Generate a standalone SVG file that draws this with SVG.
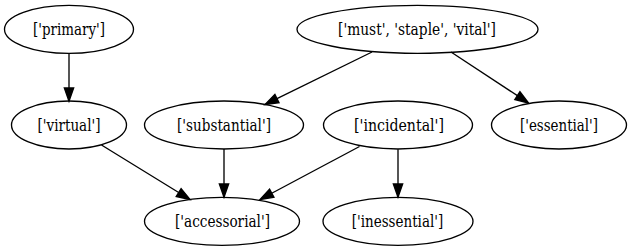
<svg xmlns="http://www.w3.org/2000/svg" width="632" height="251" viewBox="0 0 632 251">
  <style>
    .node ellipse { fill: none; stroke: #000; stroke-width: 1.33; }
    .node text { font-family: "DejaVu Serif Condensed", "DejaVu Serif", serif; font-size: 16.5px; text-anchor: middle; fill: #000; }
    .edge line { stroke: #000; stroke-width: 1.33; }
    .edge polygon { fill: #000; stroke: #000; stroke-width: 1.33; }
  </style>
  <rect width="632" height="251" fill="#fff"/>

  <!-- connectors: straight segments ending in filled arrowheads -->
  <g id="edges">
    <g class="edge" id="primary-virtual">
      <line x1="69" y1="53.5" x2="69" y2="88"/>
      <polygon points="69,101.3 64.33,88 73.67,88"/>
    </g>
    <g class="edge" id="must-substantial">
      <line x1="372" y1="52" x2="276.97" y2="98.63"/>
      <polygon points="265,104.5 279.03,102.82 274.91,94.44"/>
    </g>
    <g class="edge" id="must-essential">
      <line x1="451" y1="52" x2="517.37" y2="95.67"/>
      <polygon points="528.5,103 514.8,99.57 519.94,91.77"/>
    </g>
    <g class="edge" id="virtual-accessorial">
      <line x1="101.5" y1="145" x2="178.65" y2="192.51"/>
      <polygon points="190,199.5 176.2,196.49 181.1,188.53"/>
    </g>
    <g class="edge" id="substantial-accessorial">
      <line x1="224" y1="149" x2="224" y2="184"/>
      <polygon points="224,197.3 219.33,184 228.67,184"/>
    </g>
    <g class="edge" id="incidental-accessorial">
      <line x1="359.5" y1="146.5" x2="271.76" y2="193.23"/>
      <polygon points="260,199.5 273.96,197.35 269.57,189.11"/>
    </g>
    <g class="edge" id="incidental-inessential">
      <line x1="398" y1="149.3" x2="398" y2="184"/>
      <polygon points="398,197.3 393.33,184 402.67,184"/>
    </g>
  </g>

  <!-- nodes -->
  <g class="node" id="primary">
    <ellipse cx="69" cy="29.3" rx="64.5" ry="24"/>
    <text x="69" y="35" textLength="72" lengthAdjust="spacingAndGlyphs">['primary']</text>
  </g>
  <g class="node" id="must">
    <ellipse cx="417.5" cy="29.3" rx="120.5" ry="24"/>
    <text x="417" y="35" textLength="158" lengthAdjust="spacingAndGlyphs">['must', 'staple', 'vital']</text>
  </g>
  <g class="node" id="virtual">
    <ellipse cx="69" cy="125" rx="57.5" ry="24"/>
    <text x="69" y="130.5" textLength="63" lengthAdjust="spacingAndGlyphs">['virtual']</text>
  </g>
  <g class="node" id="substantial">
    <ellipse cx="224" cy="125" rx="79.5" ry="24"/>
    <text x="224" y="130.5" textLength="94" lengthAdjust="spacingAndGlyphs">['substantial']</text>
  </g>
  <g class="node" id="incidental">
    <ellipse cx="398" cy="125" rx="74.5" ry="24"/>
    <text x="399" y="130.5" textLength="90" lengthAdjust="spacingAndGlyphs">['incidental']</text>
  </g>
  <g class="node" id="essential">
    <ellipse cx="559" cy="125" rx="67.5" ry="24"/>
    <text x="559" y="130.5" textLength="78" lengthAdjust="spacingAndGlyphs">['essential']</text>
  </g>
  <g class="node" id="accessorial">
    <ellipse cx="222" cy="221.3" rx="77.5" ry="24"/>
    <text x="222.5" y="226.8" textLength="95" lengthAdjust="spacingAndGlyphs">['accessorial']</text>
  </g>
  <g class="node" id="inessential">
    <ellipse cx="398" cy="221.3" rx="75" ry="24"/>
    <text x="397.5" y="226.8" textLength="91.5" lengthAdjust="spacingAndGlyphs">['inessential']</text>
  </g>
</svg>
